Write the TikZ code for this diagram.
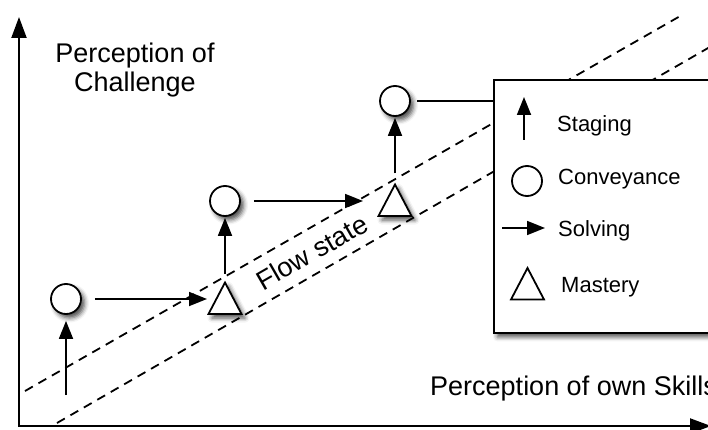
\documentclass[tikz,border=0pt]{standalone}
\usepackage{fontspec}
\setmainfont{Liberation Sans}
\usetikzlibrary{arrows.meta,shadows.blur}

\newcommand\axislabelfont{\fontsize{27}{31}\selectfont}
\newcommand\legendlabelfont{\fontsize{22}{26}\selectfont}

\tikzset{
  ln/.style={line width=1.8pt},
  axisline/.style={line width=2pt},
  flowline/.style={line width=1.8pt, dash pattern=on 9pt off 6.5pt},
  softshadow/.style={blur shadow={shadow xshift=3.5pt, shadow yshift=-4pt,
      shadow blur radius=4.5pt, shadow opacity=70}},
  noshadow/.style={},
  conv/.style={circle, draw, line width=1.8pt, fill=white, minimum size=30pt,
      inner sep=0pt},
  lbl/.style={inner sep=0pt, font=\legendlabelfont, anchor=base west},
  mastery/.pic={
    \coordinate (-c) at (0,0);
    \coordinate (-apex) at (0,-16);
    \draw[ln, fill=white, line join=miter, #1]
      (0,-16) -- (16.5,15.5) -- (-16.5,15.5) -- cycle;
  }
}

\begin{document}
\begin{tikzpicture}[x=1pt, y=-1pt, >={Triangle[length=18pt,width=14pt]}]
  \useasboundingbox (0,0) rectangle (708,430);
  \clip (0,0) rectangle (708,430);

  % flow channel
  \coordinate (fa0) at (25,391);
  \coordinate (fa1) at (682,15);
  \coordinate (fb0) at (57,423);
  \coordinate (fb1) at (722,40);
  \draw[flowline] (fa0) -- (fa1);
  \draw[flowline] (fb0) -- (fb1);
  \node[inner sep=0pt, font=\axislabelfont, rotate=29.9] (flow) at (312,252) {Flow state};

  % axes
  \coordinate (ytop) at (19,17);
  \coordinate (orig) at (19,426);
  \coordinate (xend) at (711,426);
  \draw[axisline, {Triangle[length=21pt,width=15pt]}-{Triangle[length=21pt,width=15pt]}]
    (ytop) -- (orig) -- (xend);
  \node[inner sep=0pt, font=\axislabelfont, anchor=base] (ylab1) at (135,63) {Perception of};
  \node[inner sep=0pt, font=\axislabelfont, anchor=base] (ylab2) at (135,92) {Challenge};
  \node[inner sep=0pt, font=\axislabelfont, anchor=base west] (xlab) at (430,395) {Perception of own Skills};

  % path through the channel
  \node[conv, softshadow] (c1) at (66,299) {};
  \node[conv, softshadow] (c2) at (225,201) {};
  \node[conv, softshadow] (c3) at (395,101) {};
  \pic (t1) at (225,298.5) {mastery=softshadow};
  \pic (t2) at (395,200.5) {mastery=softshadow};

  \coordinate (s1) at (66,395);
  \draw[ln, ->, shorten >=6pt] (s1) -- (c1);
  \draw[ln, ->, shorten <=13pt, shorten >=18pt] (c1) -- (c1 -| t1-c);
  \draw[ln, ->, shorten <=9pt, shorten >=1pt] (t1-apex) -- (c2);
  \draw[ln, ->, shorten <=13pt, shorten >=32pt] (c2) -- (c2 -| t2-c);
  \draw[ln, ->, shorten <=11pt, shorten >=1pt] (t2-apex) -- (c3);

  % legend
  \node[draw, line width=1.8pt, fill=white, softshadow, minimum width=300pt,
        minimum height=253pt, anchor=north west, inner sep=0pt] (legend) at (493,79) {};
  \draw[ln, shorten <=6pt] (c3) -- (c3 -| legend.west);

  \coordinate (lgs0) at (524,140);
  \coordinate (lgs1) at (524,97);
  \draw[ln, ->] (lgs0) -- (lgs1);
  \node[lbl] (lgst) at (557,132) {Staging};

  \node[conv] (lgc) at (527,181) {};
  \node[lbl] (lgct) at (558,185) {Conveyance};

  \coordinate (lgv0) at (502,228);
  \coordinate (lgv1) at (545,228);
  \draw[ln, ->] (lgv0) -- (lgv1);
  \node[lbl] (lgvt) at (558,236) {Solving};

  \pic (lgm) at (527.5,284) {mastery=noshadow};
  \node[lbl] (lgmt) at (561,292) {Mastery};
\end{tikzpicture}
\end{document}
